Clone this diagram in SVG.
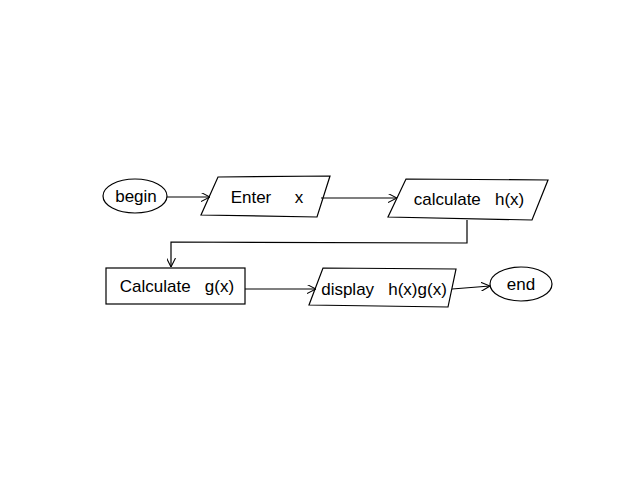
<svg xmlns="http://www.w3.org/2000/svg" width="640" height="480" viewBox="0 0 640 480">
<defs>
<marker id="ah" viewBox="0 0 10 10" refX="10" refY="5" markerWidth="9" markerHeight="9" orient="auto" markerUnits="userSpaceOnUse">
<path d="M0,0 L10,5 L0,10" fill="none" stroke="#000" stroke-width="1.2"/>
</marker>
<style>
.s{fill:#fff;stroke:#000;stroke-width:1.2}
.c{fill:none;stroke:#000;stroke-width:1.2}
.t{font-family:"Liberation Sans",Arial,sans-serif;font-size:17px;fill:#000;text-anchor:middle;dominant-baseline:central}
</style>
</defs>
<rect width="640" height="480" fill="#fff"/>
<g id="begin">
<ellipse class="s" cx="135" cy="196" rx="32" ry="17"/>
<text class="t" x="136" y="196">begin</text>
</g>
<g id="enter">
<polygon class="s" points="218,177 330,176 317,217 201,215"/>
<text class="t" x="267" y="197" xml:space="preserve">Enter     x</text>
</g>
<g id="calch">
<polygon class="s" points="406,179 548,180 532,220 388,217"/>
<text class="t" x="469" y="199" xml:space="preserve">calculate   h(x)</text>
</g>
<g id="calcg">
<rect class="s" x="106" y="268" width="139" height="36"/>
<text class="t" x="177" y="286" xml:space="preserve">Calculate   g(x)</text>
</g>
<g id="display">
<polygon class="s" points="323,268 456,269 448,307 309,305"/>
<text class="t" x="384" y="289" xml:space="preserve">display   h(x)g(x)</text>
</g>
<g id="end">
<ellipse class="s" cx="521" cy="284" rx="31" ry="17"/>
<text class="t" x="521" y="284">end</text>
</g>
<g id="connectors">
<line class="c" x1="167" y1="197" x2="210" y2="197" marker-end="url(#ah)"/>
<line class="c" x1="321" y1="198" x2="397" y2="198" marker-end="url(#ah)"/>
<polyline class="c" points="467,220 467,243 171,242 171,267" marker-end="url(#ah)"/>
<line class="c" x1="245" y1="289" x2="316" y2="289" marker-end="url(#ah)"/>
<line class="c" x1="452" y1="289" x2="490" y2="286" marker-end="url(#ah)"/>
</g>
</svg>
